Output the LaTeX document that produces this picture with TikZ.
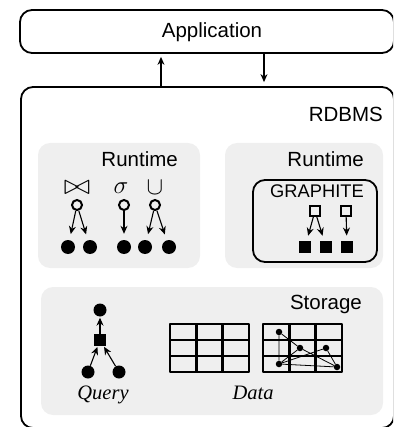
\documentclass[tikz,border=0pt]{standalone}
\usepackage{fontspec}
\usepackage{graphicx}
\setmainfont{Liberation Serif}
\setsansfont{Liberation Sans}
\usetikzlibrary{arrows.meta}
\definecolor{panelgray}{HTML}{EFEFEF}
\begin{document}
\begin{tikzpicture}[x=1pt,y=-1pt,
  frame/.style={draw=black,line width=1.8pt,rounded corners=12pt,inner sep=0pt},
  panel/.style={fill=panelgray,rounded corners=12pt},
  lbl/.style={font=\sffamily\fontsize{20.5}{24}\selectfont,inner sep=0pt},
  small/.style={font=\sffamily\fontsize{18.3}{20}\selectfont,inner sep=0pt},
  ital/.style={font=\rmfamily\itshape\fontsize{20.5}{24}\selectfont,inner sep=0pt},
  sym/.style={font=\fontsize{24.88}{30}\selectfont,inner sep=0pt},
  opnode/.style={circle,draw,line width=2pt,minimum size=10pt,inner sep=0pt},
  dot/.style={circle,fill,minimum size=14pt,inner sep=0pt},
  sdot/.style={circle,fill,minimum size=13pt,inner sep=0pt},
  gdot/.style={circle,fill,minimum size=6.5pt,inner sep=0pt},
  osq/.style={draw,line width=1.6pt,minimum size=10pt,inner sep=0pt},
  fsq/.style={fill,minimum size=12.5pt,inner sep=0pt},
  arr/.style={-{Stealth[length=8pt,width=7pt]},line width=1.1pt},
  grid/.style={line width=2.5pt,line join=round},
  edge/.style={line width=0.8pt}
]
\clip (0,0) rectangle (393,427);

% application and database frames
\node[frame,minimum width=374pt,minimum height=43pt] (app) at (207,31.5) {};
\node[lbl,anchor=base] (apptext) at (212,38) {Application};
\node[frame,minimum width=373pt,minimum height=341pt] (db) at (207.5,257.5) {};
\node[lbl,anchor=base east] (dbtext) at (383,122) {RDBMS};

\coordinate (up) at (161,0);
\coordinate (down) at (264,0);
\draw[arr] (db.north -| up) -- ([yshift=-3pt]app.south -| up);
\draw[arr] (app.south -| down) -- ([yshift=4pt]db.north -| down);

% grey panels
\fill[panel] (38,143) rectangle (200,268);
\fill[panel] (225,143) rectangle (383,268);
\fill[panel] (41,287) rectangle (383,415);
\node[lbl,anchor=base east] (rt1) at (178,167) {Runtime};
\node[lbl,anchor=base east] (rt2) at (364,167) {Runtime};
\node[lbl,anchor=base east] (st) at (362,309) {Storage};

% relational operators
\node[sym] (join) at (77,188) {\scalebox{1.3}[1.15]{$\bowtie$}};
\node[sym] (sel) at (121,188) {$\sigma$};
\node[sym] (uni) at (155,188) {$\cup$};
\node[opnode] (oj) at (77,205) {};
\node[opnode] (os) at (124,205) {};
\node[opnode] (ou) at (155,205) {};
\node[dot] (d1) at (68,247) {};
\node[dot] (d2) at (90,247) {};
\node[dot] (d3) at (124,247) {};
\node[dot] (d4) at (145,247) {};
\node[dot] (d5) at (169,247) {};
\draw[arr,shorten >=6pt] (oj) -- (d1);
\draw[arr,shorten >=6pt] (oj) -- (d2);
\draw[arr,shorten >=6pt] (os) -- (d3);
\draw[arr,shorten >=6pt] (ou) -- (d4);
\draw[arr,shorten >=6pt] (ou) -- (d5);

% GRAPHITE runtime
\draw[frame] (253,180) rectangle (377,262);
\node[small,anchor=base] (gr) at (317,197) {GRAPHITE};
\node[osq] (q1) at (315,211) {};
\node[osq] (q2) at (346,211) {};
\node[fsq] (s1) at (305,247) {};
\node[fsq] (s2) at (326,247) {};
\node[fsq] (s3) at (347,247) {};
\draw[arr,shorten >=5pt] (q1) -- (s1);
\draw[arr,shorten >=5pt] (q1) -- (s2);
\draw[arr,shorten >=5pt] (q2) -- (s3);

% query plan
\node[sdot] (qt) at (100,310) {};
\node[fsq,minimum size=11.5pt] (qs) at (100,340) {};
\node[sdot] (ql) at (88,372) {};
\node[sdot] (qr) at (119,372) {};
\draw[arr,shorten >=1pt] (qs) -- (qt);
\draw[arr,shorten >=1pt] (ql) -- (qs);
\draw[arr,shorten >=1pt] (qr) -- (qs);
\node[ital,anchor=base] (query) at (103,399) {Query};

% tables
\draw[grid] (170,324) rectangle (249,372);
\draw[grid] (196.3,324) -- (196.3,372) (222.7,324) -- (222.7,372)
            (170,340) -- (249,340) (170,356) -- (249,356);
\draw[grid] (263,324) rectangle (342,372);
\draw[grid] (289.3,324) -- (289.3,372) (315.7,324) -- (315.7,372)
            (263,340) -- (342,340) (263,356) -- (342,356);
\node[gdot] (ga) at (279,332) {};
\node[gdot] (gb) at (300,348) {};
\node[gdot] (gc) at (326,348) {};
\node[gdot] (gd) at (279,364) {};
\node[gdot] (ge) at (337,367) {};
\draw[edge] (ga) -- (gd) (ga) -- (gb) (gb) -- (ge) (gd) -- (gb)
            (gd) -- (gc) (gc) -- (ge) (gd) -- (ge);
\node[ital,anchor=base] (data) at (253,399) {Data};
\end{tikzpicture}
\end{document}
